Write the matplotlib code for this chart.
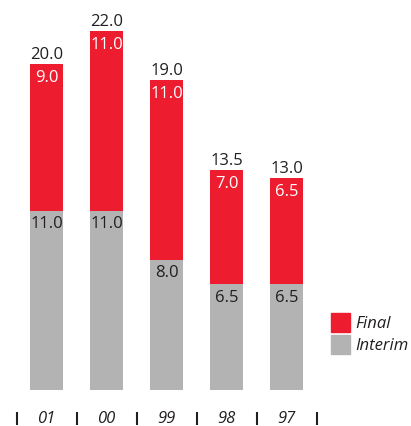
import matplotlib.pyplot as plt
from matplotlib.patches import Patch

years = ['01', '00', '99', '98', '97']
interim = [11.0, 11.0, 8.0, 6.5, 6.5]
final = [9.0, 11.0, 11.0, 7.0, 6.5]
totals = [20.0, 22.0, 19.0, 13.5, 13.0]

RED = '#ed1c2e'
GREY = '#b3b3b3'
plt.rcParams['font.family'] = ['Open Sans', 'DejaVu Sans']

fig = plt.figure(figsize=(4.11, 4.26), dpi=100)
ax = fig.add_axes([0, 0, 1, 1])
ax.set_xlim(-0.775, 6.075)
ax.set_ylim(-2.209, 23.93)
ax.axis('off')

x = list(range(len(years)))
ax.bar(x, interim, width=0.55, color=GREY, label='Interim')
ax.bar(x, final, width=0.55, bottom=interim, color=RED, label='Final')

for i in x:
    top = interim[i] + final[i]
    ax.annotate(f'{totals[i]:.1f}', (i, top), xytext=(0, 1), textcoords='offset points',
                ha='center', va='bottom', fontsize=12, color='#231f20')
    ax.annotate(f'{final[i]:.1f}', (i, top), xytext=(0, -4), textcoords='offset points',
                ha='center', va='top', fontsize=12, color='white')
    ax.annotate(f'{interim[i]:.1f}', (i, interim[i]), xytext=(0, -4), textcoords='offset points',
                ha='center', va='top', fontsize=12, color='#231f20')
    ax.text(i, -1.75, years[i], ha='center', va='center', fontsize=12,
            style='italic', color='#231f20')

# separators between year labels
ax.vlines([i - 0.5 for i in range(len(years) + 1)], -2.12, -1.36, color='#231f20', lw=1.5)

handles = [Patch(color=RED, label='Final'), Patch(color=GREY, label='Interim')]
leg = ax.legend(handles=handles, loc='upper left', bbox_to_anchor=(328 / 411, 1 - 311 / 426),
                frameon=False, fontsize=12, handlelength=1.15, handleheight=1.3,
                handletextpad=0.35, labelspacing=0.2, borderpad=0.15, borderaxespad=0)
for t in leg.get_texts():
    t.set_style('italic')
    t.set_color('#231f20')

fig.savefig('out.png', dpi=100)
